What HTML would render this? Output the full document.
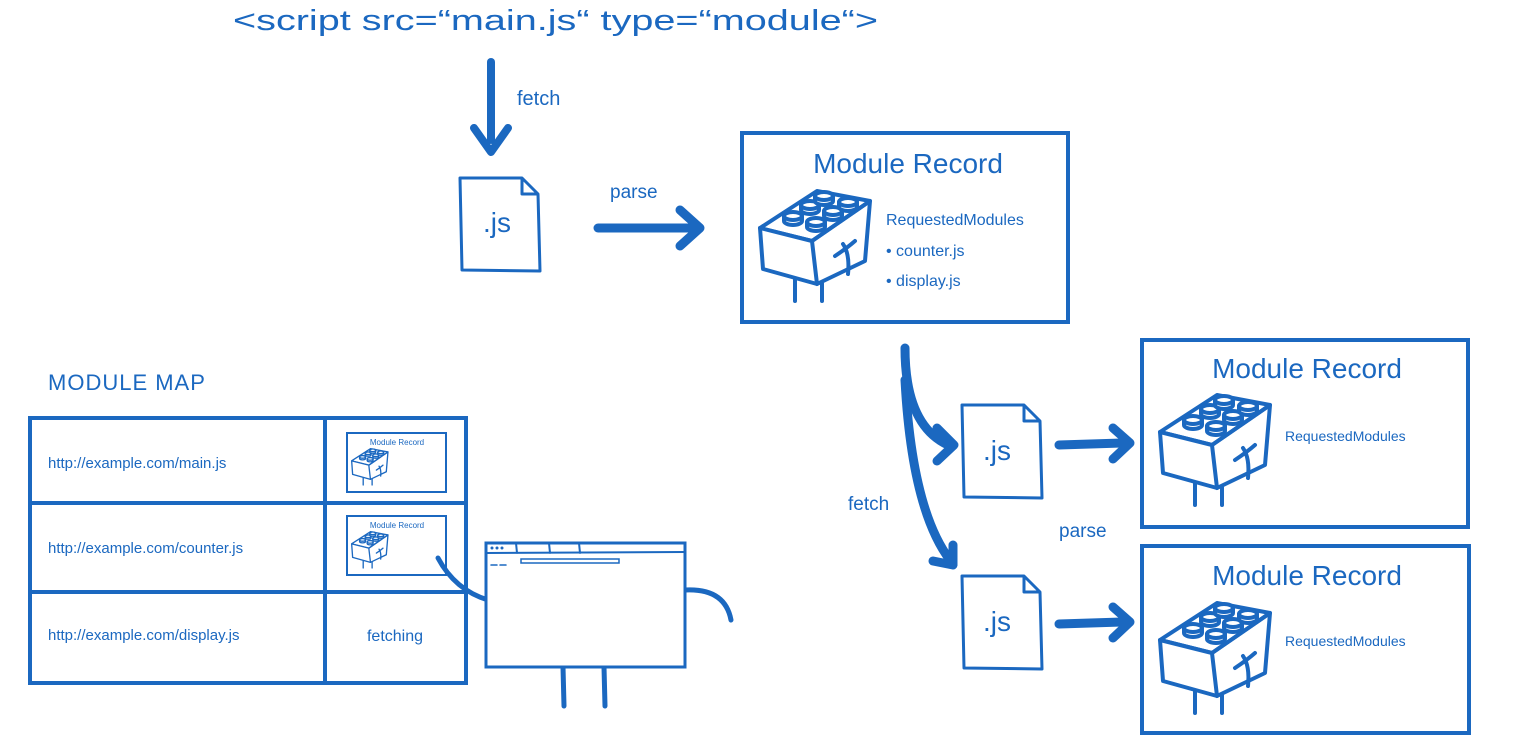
<!DOCTYPE html>
<html><head><meta charset="utf-8"><style>
html,body{margin:0;padding:0;background:#fff;width:1518px;height:755px;overflow:hidden}
svg{display:block}
text{font-family:"Liberation Sans","DejaVu Sans",sans-serif;fill:#1b68c0}
</style></head><body>
<svg width="1518" height="755" viewBox="0 0 1518 755" xmlns="http://www.w3.org/2000/svg">
<defs>
<g id="brick" fill="none" stroke="#1b68c0" stroke-width="4" stroke-linejoin="round" stroke-linecap="round">
  <path d="M5,42 L62,5 L115,15 L57,55 Z" fill="#fff"/>
  <path d="M5,42 L57,55 L62,98 L8,83 Z" fill="#fff"/>
  <path d="M57,55 L115,15 L110,75 L62,98"/>
  <path d="M40,93 L40,115 M67,97 L67,115"/>
  <path d="M80,70 Q92,62 100,55 M88,58 Q95,68 93,88"/>
  <g fill="#fff">
    <path d="M29,30 v5 a9,4 0 0 0 18,0 v-5"/><ellipse cx="38" cy="30" rx="9" ry="4"/>
    <path d="M46,19 v5 a9,4 0 0 0 18,0 v-5"/><ellipse cx="55" cy="19" rx="9" ry="4"/>
    <path d="M60,10 v5 a9,4 0 0 0 18,0 v-5"/><ellipse cx="69" cy="10" rx="9" ry="4"/>
    <path d="M52,36 v5 a9,4 0 0 0 18,0 v-5"/><ellipse cx="61" cy="36" rx="9" ry="4"/>
    <path d="M69,25 v5 a9,4 0 0 0 18,0 v-5"/><ellipse cx="78" cy="25" rx="9" ry="4"/>
    <path d="M84,16 v5 a9,4 0 0 0 18,0 v-5"/><ellipse cx="93" cy="16" rx="9" ry="4"/>
  </g>
</g>
<g id="file" fill="#fff" stroke="#1b68c0" stroke-width="3" stroke-linejoin="round">
  <path d="M0,0 L62,0 L78,16 L80,93 L2,92 Z"/>
  <path d="M62,0 L62,16 L78,16" fill="none"/>
</g>
</defs>

<text x="233" y="30" font-size="29" textLength="645" lengthAdjust="spacingAndGlyphs">&lt;script  src=“main.js“  type=“module“&gt;</text>

<!-- fetch down arrow -->
<path d="M491,62 L491,140" stroke="#1b68c0" stroke-width="8" stroke-linecap="round" fill="none"/>
<path d="M474,128 L491,152 L508,128" stroke="#1b68c0" stroke-width="8" stroke-linecap="round" stroke-linejoin="round" fill="none"/>
<text x="517" y="105" font-size="20">fetch</text>

<use href="#file" x="460" y="178"/>
<text x="497" y="232" font-size="28" text-anchor="middle">.js</text>

<text x="610" y="198" font-size="19">parse</text>
<path d="M598,228 L690,228" stroke="#1b68c0" stroke-width="9" stroke-linecap="round"/>
<path d="M680,210 L700,228 L680,246" stroke="#1b68c0" stroke-width="9" stroke-linecap="round" stroke-linejoin="round" fill="none"/>

<!-- main module record -->
<rect x="742" y="133" width="326" height="189" fill="none" stroke="#1b68c0" stroke-width="4"/>
<text x="908" y="173" font-size="28" text-anchor="middle">Module  Record</text>
<use href="#brick" x="755" y="186"/>
<text x="886" y="225" font-size="16">RequestedModules</text>
<text x="886" y="256" font-size="16">•  counter.js</text>
<text x="886" y="286" font-size="16">•  display.js</text>

<!-- module map -->
<text x="48" y="390" font-size="22" letter-spacing="1">MODULE  MAP</text>
<g fill="none" stroke="#1b68c0" stroke-width="4">
<rect x="30" y="418" width="436" height="265"/>
<path d="M325,418 L325,683 M30,503 L466,503 M30,592 L466,592"/>
</g>
<text x="48" y="468" font-size="15">http://example.com/main.js</text>
<text x="48" y="553" font-size="15">http://example.com/counter.js</text>
<text x="48" y="640" font-size="15">http://example.com/display.js</text>
<text x="395" y="641" font-size="16" text-anchor="middle">fetching</text>
<rect x="347" y="433" width="99" height="59" fill="none" stroke="#1b68c0" stroke-width="2"/>
<text x="397" y="445" font-size="8" text-anchor="middle">Module  Record</text>
<use href="#brick" transform="translate(350,447) scale(0.33)"/>
<rect x="347" y="516" width="99" height="59" fill="none" stroke="#1b68c0" stroke-width="2"/>
<text x="397" y="528" font-size="8" text-anchor="middle">Module  Record</text>
<use href="#brick" transform="translate(350,530) scale(0.33)"/>

<!-- browser character -->
<g fill="none" stroke="#1b68c0" stroke-linecap="round">
<path d="M438,558 Q455,590 488,600" stroke-width="5"/>
<path d="M685,590 Q725,588 731,620" stroke-width="5"/>
<path d="M563,667 L564,706 M604,667 L605,706" stroke-width="5"/>
<rect x="486" y="543" width="199" height="124" fill="#fff" stroke-width="3"/>
<path d="M486,553 L685,552 M516,543 L517,553 M549,543 L550,553 M579,543 L580,553" stroke-width="2"/>
<rect x="521" y="559" width="98" height="4" stroke-width="1.5"/>
<path d="M491,565 h6 M500,565 h6" stroke-width="1.5"/>
</g>
<g fill="#1b68c0"><circle cx="492" cy="548" r="1.5"/><circle cx="497" cy="548" r="1.5"/><circle cx="502" cy="548" r="1.5"/></g>

<!-- branch fetch arrows -->
<g fill="none" stroke="#1b68c0" stroke-width="9" stroke-linecap="round" stroke-linejoin="round">
<path d="M905,348 Q905,425 948,445"/>
<path d="M937,428 L954,445 L937,461"/>
<path d="M905,380 Q912,510 950,560"/>
<path d="M933,561 L953,565 L953,545"/>
</g>
<text x="848" y="510" font-size="19">fetch</text>

<use href="#file" x="962" y="405"/>
<text x="997" y="460" font-size="28" text-anchor="middle">.js</text>
<use href="#file" x="962" y="576"/>
<text x="997" y="631" font-size="28" text-anchor="middle">.js</text>

<g fill="none" stroke="#1b68c0" stroke-width="9" stroke-linecap="round" stroke-linejoin="round">
<path d="M1059,445 L1122,443"/><path d="M1113,428 L1130,443 L1113,459"/>
<path d="M1059,624 L1122,622"/><path d="M1113,607 L1130,622 L1113,638"/>
</g>
<text x="1059" y="537" font-size="19">parse</text>

<rect x="1142" y="340" width="326" height="187" fill="none" stroke="#1b68c0" stroke-width="4"/>
<text x="1307" y="378" font-size="28" text-anchor="middle">Module  Record</text>
<use href="#brick" x="1155" y="390"/>
<text x="1285" y="441" font-size="14">RequestedModules</text>

<rect x="1142" y="546" width="327" height="187" fill="none" stroke="#1b68c0" stroke-width="4"/>
<text x="1307" y="585" font-size="28" text-anchor="middle">Module  Record</text>
<use href="#brick" x="1155" y="598"/>
<text x="1285" y="646" font-size="14">RequestedModules</text>
</svg>
</body></html>
